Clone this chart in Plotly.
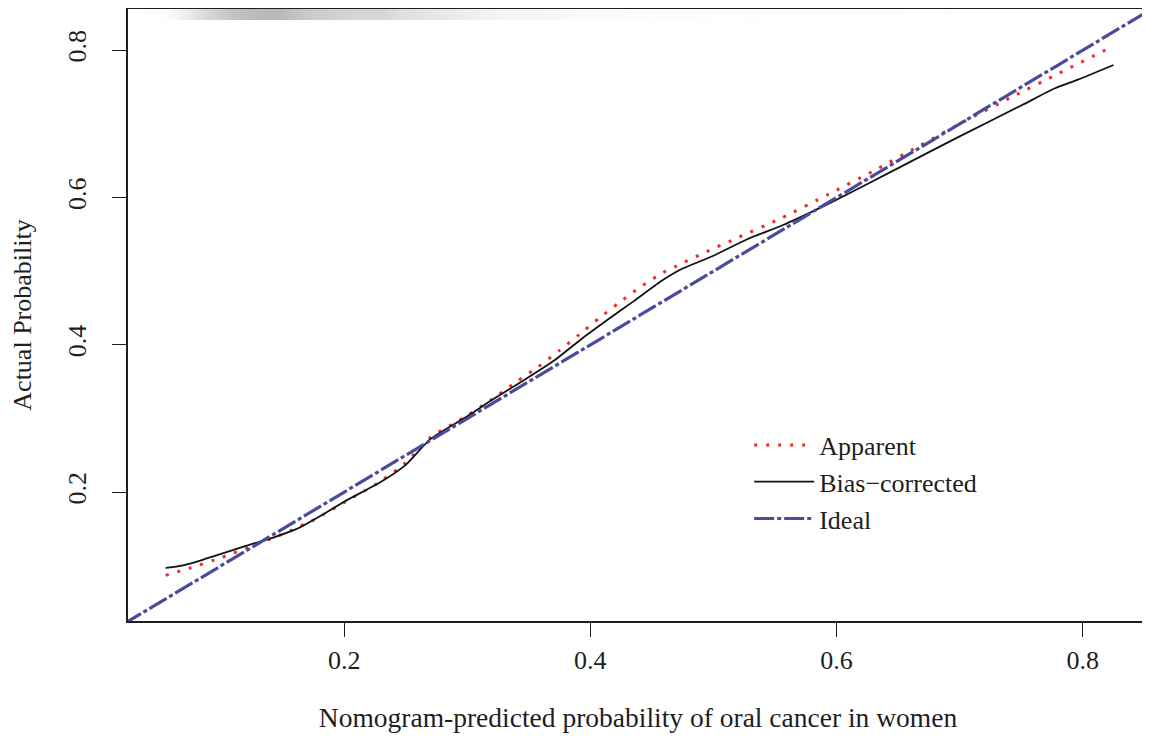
import plotly.graph_objects as go

# Apparent calibration curve
app_x = [0.055, 0.075, 0.1, 0.125, 0.15, 0.175, 0.2, 0.229, 0.25, 0.27, 0.3, 0.32, 0.34,
         0.3575, 0.3746, 0.391, 0.407, 0.424, 0.441, 0.459, 0.4686, 0.4925, 0.5165,
         0.555, 0.593, 0.631, 0.667, 0.705, 0.743, 0.781, 0.824]
app_y = [0.087, 0.097, 0.111, 0.127, 0.143, 0.162, 0.186, 0.214, 0.240, 0.274, 0.304, 0.326, 0.350,
         0.370, 0.392, 0.414, 0.436, 0.458, 0.479, 0.498, 0.506, 0.525, 0.543,
         0.572, 0.604, 0.637, 0.670, 0.7045, 0.737, 0.769, 0.805]

# Bias-corrected calibration curve
bc_x = [0.055, 0.07, 0.085, 0.1, 0.12, 0.14, 0.16, 0.18, 0.2, 0.23, 0.25, 0.27, 0.3, 0.32,
        0.346, 0.37, 0.392, 0.414, 0.435, 0.457, 0.473, 0.5, 0.527, 0.557, 0.584, 0.606,
        0.65, 0.7, 0.75, 0.777, 0.796, 0.825]
bc_y = [0.097, 0.101, 0.108, 0.116, 0.127, 0.137, 0.149, 0.167, 0.187, 0.214, 0.237, 0.272, 0.303, 0.325,
        0.352, 0.378, 0.407, 0.434, 0.459, 0.486, 0.502, 0.521, 0.543, 0.563, 0.584, 0.602,
        0.640, 0.683, 0.725, 0.748, 0.760, 0.780]

# Ideal line
ideal_x = [0.0, 1.0]
ideal_y = [0.0, 1.0]

# Rug of predicted probabilities (relative density per 0.02 bin)
rug_edges = [0.04, 0.06, 0.08, 0.10, 0.12, 0.14, 0.16, 0.18, 0.20, 0.22, 0.24, 0.26, 0.28, 0.30,
             0.32, 0.34, 0.36, 0.38, 0.40, 0.42, 0.44, 0.46, 0.48, 0.50, 0.52, 0.54, 0.56,
             0.58, 0.60, 0.62, 0.64, 0.66, 0.68, 0.70, 0.72, 0.74, 0.76, 0.78, 0.80, 0.82, 0.84]
rug_density = [0.1, 0.45, 0.7, 0.85, 0.9, 0.9, 0.8, 0.75, 0.7, 0.7, 0.6, 0.55, 0.5, 0.4,
               0.35, 0.35, 0.3, 0.25, 0.25, 0.2, 0.15, 0.2, 0.15, 0.12, 0.15, 0.12, 0.1,
               0.12, 0.1, 0.08, 0.08, 0.06, 0.08, 0.06, 0.06, 0.05, 0.04, 0.05, 0.04, 0.04]
rug_band = [0.841, 0.856]

x_ticks = [0.2, 0.4, 0.6, 0.8]
y_ticks = [0.2, 0.4, 0.6, 0.8]
x_range = [0.0244, 0.853]
y_range = [0.025, 0.856]

FONT = "Liberation Serif"
TXT = "#1e1e1e"

fig = go.Figure()

fig.add_trace(go.Heatmap(
    x=rug_edges, y=rug_band, z=[rug_density],
    colorscale=[[0, "rgba(255,255,255,0)"], [1, "#ababab"]],
    zmin=0, zmax=1, zsmooth="best", showscale=False, hoverinfo="skip", showlegend=False,
))

fig.add_trace(go.Scatter(
    x=app_x, y=app_y, mode="lines", name="Apparent",
    line=dict(color="#ee2a24", width=3, dash="3px,9px", shape="spline", smoothing=0.6),
))
fig.add_trace(go.Scatter(
    x=bc_x, y=bc_y, mode="lines", name="Bias\u2212corrected",
    line=dict(color="#111111", width=1.8, shape="spline", smoothing=0.6),
))
fig.add_trace(go.Scatter(
    x=ideal_x, y=ideal_y, mode="lines", name="Ideal",
    line=dict(color="#4a4a9e", width=3.2, dash="20px,3px,4px,3px"),
))

fig.update_layout(
    width=1150, height=738,
    margin=dict(l=120, r=10, t=1, b=125),
    paper_bgcolor="white", plot_bgcolor="white",
    font=dict(family=FONT, size=26, color=TXT),
    showlegend=True,
    legend=dict(
        x=0.609, y=0.326, xanchor="left", yanchor="top",
        bgcolor="rgba(0,0,0,0)", font=dict(family=FONT, size=26, color=TXT),
        tracegroupgap=0, itemwidth=60,
    ),
    xaxis=dict(
        range=x_range, tickvals=x_ticks, ticktext=[f"{v:.1f}" for v in x_ticks],
        showgrid=False, zeroline=False, showline=True, mirror=True, automargin=False,
        linecolor=TXT, linewidth=1.5,
        ticks="outside", ticklen=14, tickwidth=1.3, tickcolor=TXT,
        ticklabelstandoff=1, tickfont=dict(size=26),
        title=dict(text="Nomogram-predicted probability of oral cancer in women",
                   font=dict(family=FONT, size=27.5), standoff=34),
    ),
    yaxis=dict(
        range=y_range, tickvals=y_ticks, ticktext=[f"{v:.1f}" for v in y_ticks],
        showgrid=False, zeroline=False, showline=True, mirror=True, automargin=False,
        linecolor=TXT, linewidth=1.5,
        ticks="outside", ticklen=14, tickwidth=1.3, tickcolor=TXT,
        tickangle=-90, ticklabelstandoff=16, tickfont=dict(size=26),
        title=dict(text="Actual Probability", font=dict(family=FONT, size=26), standoff=28),
    ),
)

fig.write_html("out.html")
